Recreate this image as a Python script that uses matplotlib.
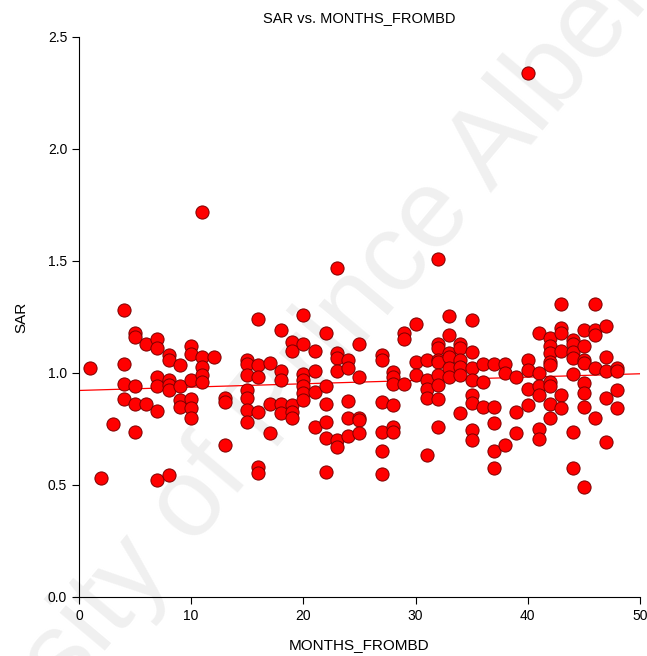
import matplotlib.pyplot as plt
import numpy as np

plt.rcParams['font.family'] = ['Liberation Sans', 'DejaVu Sans']

# SAR values, grouped by month
sar_by_month = {
    1: [1.02],
    2: [0.53],
    3: [0.77],
    4: [1.28, 1.04, 0.95, 0.885],
    5: [1.18, 1.16, 0.94, 0.86, 0.735],
    6: [1.13, 0.86],
    7: [1.15, 1.11, 0.98, 0.94, 0.83, 0.52],
    8: [1.08, 1.06, 0.97, 0.945, 0.925, 0.545],
    9: [1.035, 0.94, 0.88, 0.85],
    10: [1.12, 1.085, 0.97, 0.885, 0.845, 0.80],
    11: [1.72, 1.07, 1.025, 0.99, 0.96],
    12: [1.07],
    13: [0.89, 0.87, 0.68],
    15: [1.06, 1.04, 0.99, 0.925, 0.89, 0.835, 0.78],
    16: [1.24, 1.035, 0.98, 0.825, 0.58, 0.555],
    17: [1.045, 0.86, 0.73],
    18: [1.19, 1.01, 0.97, 0.86, 0.82],
    19: [1.14, 1.10, 0.855, 0.825, 0.80],
    20: [1.26, 1.13, 0.995, 0.97, 0.94, 0.91, 0.88],
    21: [1.10, 1.01, 0.915, 0.76],
    22: [1.18, 0.94, 0.86, 0.78, 0.71, 0.56],
    23: [1.47, 1.09, 1.065, 1.01, 0.70, 0.67],
    24: [1.06, 1.02, 0.875, 0.80, 0.72],
    25: [1.13, 0.98, 0.80, 0.79, 0.73],
    27: [1.08, 1.06, 0.87, 0.735, 0.65, 0.55],
    28: [1.005, 0.98, 0.95, 0.855, 0.76, 0.735],
    29: [1.18, 1.15, 0.95],
    30: [1.22, 1.05, 0.99],
    31: [1.06, 0.97, 0.93, 0.89, 0.635],
    32: [1.51, 1.13, 1.11, 1.06, 1.05, 0.99, 0.945, 0.885, 0.76],
    33: [1.255, 1.17, 1.09, 1.07, 1.02, 0.98],
    34: [1.13, 1.11, 1.06, 1.025, 0.99, 0.82],
    35: [1.235, 1.095, 1.02, 0.97, 0.90, 0.865, 0.745, 0.70],
    36: [1.04, 0.96, 0.85],
    37: [1.04, 0.85, 0.775, 0.65, 0.575],
    38: [1.04, 1.00, 0.68],
    39: [0.98, 0.825, 0.73],
    40: [2.34, 1.06, 1.015, 0.93, 0.855],
    41: [1.18, 1.00, 0.94, 0.90, 0.75, 0.705],
    42: [1.155, 1.12, 1.09, 1.05, 1.035, 0.96, 0.94, 0.86, 0.80],
    43: [1.31, 1.20, 1.18, 1.10, 0.90, 0.845],
    44: [1.145, 1.13, 1.095, 1.065, 0.995, 0.735, 0.575],
    45: [1.19, 1.12, 1.06, 1.045, 0.955, 0.91, 0.85, 0.49],
    46: [1.31, 1.19, 1.17, 1.02, 0.80],
    47: [1.21, 1.07, 1.01, 0.89, 0.69],
    48: [1.02, 1.01, 0.925, 0.845],
}

months = []
sar = []
for m, vals in sar_by_month.items():
    for v in vals:
        months.append(m)
        sar.append(v)
months = np.array(months)
sar = np.array(sar)

x_ticks = [0, 10, 20, 30, 40, 50]
y_ticks = [0.0, 0.5, 1.0, 1.5, 2.0, 2.5]

fig = plt.figure(figsize=(6.47, 6.56), dpi=100)
ax = fig.add_axes([0.122, 0.09, 0.867, 0.8536])
ax.set_facecolor('none')

# watermark
fig.text(0.38, 0.33, 'University of Prince Albert', fontsize=80, color='#f0f0f0',
         rotation=50, ha='center', va='center', zorder=-5)

ax.scatter(months, sar, s=90, c='red', edgecolors='#7a0000', linewidths=0.7, zorder=3)

# linear fit
slope, intercept = np.polyfit(months, sar, 1)
xs = np.array([0, 50])
ax.plot(xs, intercept + slope * xs, color='red', linewidth=0.9, zorder=2)

ax.set_xlim(0, 50)
ax.set_ylim(0, 2.5)
ax.set_xticks(x_ticks)
ax.set_yticks(y_ticks)
ax.set_yticklabels(['%.1f' % t for t in y_ticks])
ax.tick_params(direction='out', length=5, width=0.8, labelsize=10, color='black')
for side in ['top', 'right']:
    ax.spines[side].set_visible(False)
ax.spines['left'].set_linewidth(0.8)
ax.spines['bottom'].set_linewidth(0.8)

ax.set_title('SAR vs. MONTHS_FROMBD', fontsize=10.5, pad=11)
ax.set_xlabel('MONTHS_FROMBD', fontsize=11, labelpad=11)
ax.set_ylabel('SAR', fontsize=11, labelpad=14)

fig.savefig('out.png', dpi=100)
